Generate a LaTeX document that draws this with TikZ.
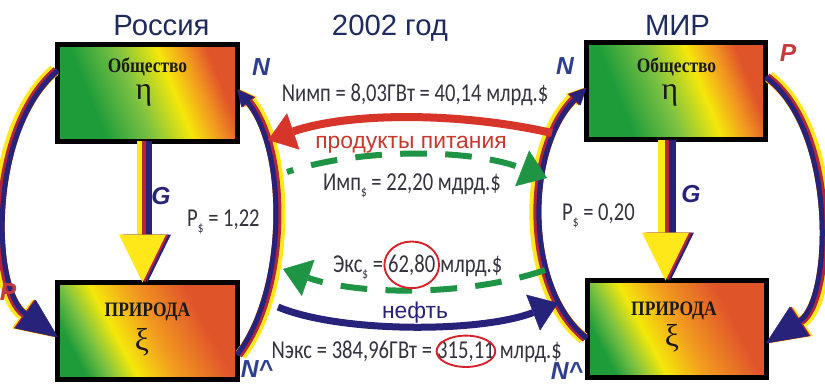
\documentclass[tikz,border=0pt]{standalone}
\usepackage{fontspec}
\usetikzlibrary{arrows.meta,calc}
\setmainfont{Liberation Sans}
\newfontfamily\titlef{Liberation Sans}
\newfontfamily\condf[FakeStretch=0.8]{Carlito}
\newfontfamily\serfc[FakeStretch=0.85]{Liberation Serif}
\newfontfamily\serf{Liberation Serif}
\definecolor{grn}{HTML}{1E9C3A}
\definecolor{grnl}{HTML}{7DC242}
\definecolor{yel}{HTML}{F4E80A}
\definecolor{org}{HTML}{F29A1F}
\definecolor{rdo}{HTML}{E0542A}
\definecolor{navyc}{HTML}{28237A}
\definecolor{stripr}{HTML}{B3263A}
\definecolor{stripy}{HTML}{FFE81A}
\definecolor{arrred}{HTML}{D8352A}
\definecolor{arrgrn}{HTML}{1F9444}
\definecolor{titc}{HTML}{1F2B5E}
\definecolor{labc}{HTML}{34343F}
\definecolor{nblue}{HTML}{2E3F8F}
\definecolor{pred}{HTML}{C43A3E}
\definecolor{txtred}{HTML}{C9382B}
\definecolor{ellred}{HTML}{D8202A}
\pgfdeclarehorizontalshading{socshade}{100bp}{color(0bp)=(grn); color(32bp)=(grn); color(46bp)=(grnl); color(58bp)=(yel); color(66bp)=(org); color(73bp)=(rdo); color(100bp)=(rdo)}
\pgfdeclarehorizontalshading{natshade}{100bp}{color(0bp)=(grn); color(25bp)=(grn); color(32bp)=(grnl); color(40bp)=(yel); color(52bp)=(org); color(68bp)=(rdo); color(100bp)=(rdo)}
\newcommand\subd{\raisebox{-0.5ex}{\fontsize{12pt}{12pt}\selectfont\$}}
\begin{document}
\begin{tikzpicture}[x=0.03cm,y=-0.03cm,
  box/.style={draw=black, line width=0.15cm, minimum width=5.37cm, minimum height=2.91cm, inner sep=0pt, outer sep=0pt, shade},
  ttl/.style={font=\titlef\fontsize{25pt}{28pt}\selectfont, text=titc, inner sep=0pt},
  lab/.style={font=\condf\fontsize{22pt}{24pt}\selectfont, text=labc, inner sep=0pt},
  wlab/.style={font=\titlef\fontsize{19.5pt}{22pt}\selectfont, inner sep=0pt},
  boxt/.style={font=\serfc\bfseries\fontsize{17.5pt}{20pt}\selectfont, text=black!90, inner sep=0pt},
  greek/.style={font=\serf\fontsize{27pt}{29pt}\selectfont, text=black!90, inner sep=0pt},
  letter/.style={font=\titlef\bfseries\itshape\fontsize{21pt}{23pt}\selectfont, inner sep=0pt},
  bigtip/.style={-{Triangle[length=1.2cm,width=1.05cm,line width=0.3pt]}},
  smalltip/.style={-{Triangle[length=0.5cm,width=0.48cm,line width=0.3pt]}},
  midtip/.style={-{Triangle[length=0.8cm,width=1.15cm,line width=0.3pt]}},
  ell/.style={draw=ellred, line width=1.6pt}
]
\useasboundingbox (0,0) rectangle (825,385);
\fill[white] (0,0) rectangle (825,385);

% boxes
\node[box, shading=socshade, shading angle=22] (soc1) at (147.5,92.5) {};
\node[box, shading=natshade, shading angle=28] (nat1) at (147.5,331) {};
\node[box, shading=socshade, shading angle=22] (soc2) at (676,91) {};
\node[box, shading=natshade, shading angle=28] (nat2) at (676.5,329) {};

\node[boxt, anchor=base] (t1) at (147.5,72) {Общество};
\node[greek, anchor=base] (e1) at (144,99) {η};
\node[boxt, anchor=base] (t2) at (147.5,316) {ПРИРОДА};
\node[greek, anchor=base] (x1) at (142,350) {ξ};
\node[boxt, anchor=base] (t3) at (676.5,72) {Общество};
\node[greek, anchor=base] (e2) at (670,99) {η};
\node[boxt, anchor=base] (t4) at (674,315) {ПРИРОДА};
\node[greek, anchor=base] (x2) at (672,346) {ξ};

% titles
\node[ttl, anchor=base] (tru) at (161.5,35) {Россия};
\node[ttl, anchor=base] (tyr) at (390,35) {2002 год};
\node[ttl, anchor=base] (tmir) at (677.5,35) {МИР};

% G arrows (Russia)
\draw[stripy, line width=0.15cm] ($(soc1.south)+(-8,0)$) -- ($(nat1.north)+(-8,-48)$);
\draw[stripr, line width=0.135cm] ($(soc1.south)+(-3.5,0)$) -- ($(nat1.north)+(-3.5,-48)$);
\draw[navyc, line width=0.18cm] ($(soc1.south)+(1.5,0)$) -- ($(nat1.north)+(1.5,-48)$);
\fill[navyc] ($(nat1.north)+(0,0)$) -- ++(-23.5,-48) -- ++(47,0) -- cycle;
\fill[stripr] ($(nat1.north)+(-2.5,0)$) -- ++(-23.5,-48) -- ++(47,0) -- cycle;
\fill[stripy] ($(nat1.north)+(-5,0)$) -- ++(-23.5,-48) -- ++(47,0) -- cycle;
% G arrows (World)
\draw[stripy, line width=0.2cm] ($(soc2.south)+(-14.5,0)$) -- ($(nat2.north)+(-15,-48)$);
\draw[stripr, line width=0.15cm] ($(soc2.south)+(-9,0)$) -- ($(nat2.north)+(-9.5,-48)$);
\draw[navyc, line width=0.2cm] ($(soc2.south)+(-3.5,0)$) -- ($(nat2.north)+(-4,-48)$);
\fill[navyc] ($(nat2.north)+(-6,0)$) -- ++(-23.5,-48) -- ++(47,0) -- cycle;
\fill[stripr] ($(nat2.north)+(-8.5,0)$) -- ++(-23.5,-48) -- ++(47,0) -- cycle;
\fill[stripy] ($(nat2.north)+(-11,0)$) -- ++(-23.5,-48) -- ++(47,0) -- cycle;

% outer and inner arcs
\foreach \c/\s/\w in {stripy/-0.105/0.36, stripr/-0.045/0.24, navyc/0/0.15} {
  \begin{scope}[transform canvas={xshift=\s cm}]
    \draw[\c, line width=\w cm, bigtip] (soc1.166) .. controls (-12,130) and (-8,290) .. (nat1.184);
  \end{scope}
  \begin{scope}[transform canvas={xshift=-\s cm}]
    \draw[\c, line width=\w cm, bigtip] (soc2.9) .. controls (837,130) and (832,300) .. (nat2.-9);
  \end{scope}
  \begin{scope}[transform canvas={xshift=-\s cm}]
    \draw[\c, line width=\w cm, smalltip] (nat1.-15) .. controls (287,290) and (287,150) .. (soc1.2);
  \end{scope}
  \begin{scope}[transform canvas={xshift=\s cm}]
    \draw[\c, line width=\w cm, smalltip] (nat2.186) .. controls (525,290) and (525,150) .. (soc2.178);
  \end{scope}
}

% trade arrows
\coordinate (r1) at (552,133); \coordinate (r2) at (268,140);
\coordinate (g1) at (287,172); \coordinate (g2) at (547,178);
\coordinate (g3) at (545,270); \coordinate (g4) at (283,269);
\coordinate (n1) at (278,307); \coordinate (n2) at (558,303);
\draw[arrred, line width=0.24cm, midtip] (r1) .. controls (460,112) and (350,112) .. (r2);
\draw[arrgrn, line width=0.18cm, dash pattern=on 0.8cm off 0.55cm, dash phase=0.6cm, midtip] (g1) .. controls (360,148) and (470,148) .. (g2);
\draw[arrgrn, line width=0.18cm, dash pattern=on 0.8cm off 0.55cm, midtip] (g3) .. controls (470,296) and (360,296) .. (g4);
\draw[navyc, line width=0.21cm, midtip] (n1) .. controls (340,333) and (480,333) .. (n2);

% labels
\node[letter, text=nblue] (lN1) at (261,67) {N};
\node[letter, text=nblue] (lN2) at (565,66) {N};
\node[letter, text=pred] (lP1) at (8,292) {P};
\node[letter, text=pred] (lP2) at (788,53) {P};
\node[letter, text=navyc] (lG1) at (161,196) {G};
\node[letter, text=navyc] (lG2) at (691,194) {G};
\node[letter, text=nblue] (lM1) at (257,369) {N\textasciicircum};
\node[letter, text=nblue] (lM2) at (567,371) {N\textasciicircum};

\node[lab, anchor=base] (imp1) at (415,101) {Nимп = 8,03ГВт = 40,14 млрд.\$};
\node[wlab, text=txtred, anchor=base] (food) at (411,148) {продукты питания};
\node[lab, anchor=base] (imp2) at (412,190) {Имп\subd{} = 22,20 мдрд.\$};
\node[lab, anchor=base west] (ps1) at (187,226) {P\subd{} = 1,22};
\node[lab, anchor=base west] (ps2) at (562,220) {P\subd{} = 0,20};

\node[lab, anchor=base west] (ex2) at (388,272) {62,80};
\node[lab, anchor=base east] (ex1) at ([xshift=-4pt]ex2.base west) {Экс\subd{} =};
\node[lab, anchor=base west] (ex3) at ([xshift=4pt]ex2.base east) {млрд.\$};
\draw[ell] (ex2.center) ellipse (0.82cm and 0.7cm);

\node[wlab, text=navyc, anchor=base] (oil) at (415,318) {нефть};

\node[lab, anchor=base west] (nx2) at (437,358) {315,11};
\node[lab, anchor=base east] (nx1) at ([xshift=-4pt]nx2.base west) {Nэкс = 384,96ГВт =};
\node[lab, anchor=base west] (nx3) at ([xshift=4pt]nx2.base east) {млрд.\$};
\draw[ell] (nx2.center) ellipse (0.88cm and 0.47cm);
\end{tikzpicture}
\end{document}
